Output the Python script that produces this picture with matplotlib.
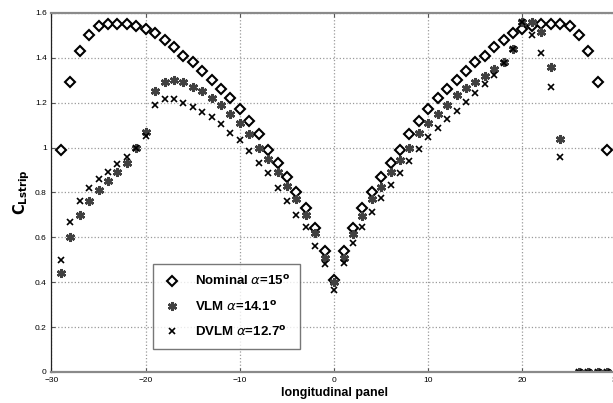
import numpy as np
import matplotlib
matplotlib.use("Agg")
import matplotlib.pyplot as plt

# Panel index along the span
panels = np.arange(-29, 30)

# Nominal alpha=15 deg (symmetric about the root panel)
nominal_half = [0.41, 0.54, 0.64, 0.73, 0.80, 0.87, 0.93, 0.99, 1.06, 1.12,
                1.17, 1.22, 1.26, 1.30, 1.34, 1.38, 1.41, 1.45, 1.48, 1.51,
                1.53, 1.54, 1.55, 1.55, 1.55, 1.54, 1.50, 1.43, 1.29, 0.99]
nominal = nominal_half[:0:-1] + nominal_half

# VLM alpha=14.1 deg, panels -29..29 (nan = not drawn)
vlm = [0.44, 0.60, 0.70, 0.76, 0.81, 0.85, 0.89, 0.93, 1.00, 1.07,
       1.25, 1.29, 1.30, 1.29, 1.27, 1.25, 1.22, 1.19, 1.15, 1.11,
       1.06, 1.00, 0.95, 0.89, 0.83, 0.77, 0.70, 0.62, 0.51, 0.40,
       0.51, 0.615, 0.695, 0.77, 0.825, 0.89, 0.945, 1.00, 1.065, 1.11,
       1.15, 1.19, 1.235, 1.265, 1.29, 1.32, 1.35, 1.38, 1.44, 1.56,
       1.56, 1.515, 1.36, 1.04, np.nan, 0.0, 0.0, 0.0, 0.0]

# DVLM alpha=12.7 deg, panels -29..29
dvlm = [0.50, 0.67, 0.76, 0.82, 0.86, 0.89, 0.925, 0.96, 1.00, 1.05,
        1.19, 1.215, 1.215, 1.20, 1.18, 1.16, 1.135, 1.105, 1.065, 1.035,
        0.985, 0.93, 0.885, 0.82, 0.76, 0.70, 0.645, 0.56, 0.48, 0.365,
        0.485, 0.575, 0.645, 0.715, 0.775, 0.835, 0.885, 0.94, 0.995, 1.045,
        1.085, 1.125, 1.165, 1.205, 1.245, 1.285, 1.325, 1.375, 1.44, 1.56,
        1.50, 1.42, 1.27, 0.96, np.nan, 0.0, 0.0, 0.0, 0.0]

xticks = [-30, -20, -10, 0, 10, 20, 30]
yticks = [0, 0.2, 0.4, 0.6, 0.8, 1.0, 1.2, 1.4, 1.6]
ytick_labels = ["0", "0.2", "0.4", "0.6", "0.8", "1", "1.2", "1.4", "1.6"]

plt.rcParams["font.family"] = ["Liberation Sans", "DejaVu Sans"]
plt.rcParams["mathtext.fontset"] = "dejavusans"

fig = plt.figure(figsize=(6.13, 4.03), dpi=100)
ax = fig.add_axes([0.084, 0.077, 0.922, 0.891])

ax.plot(panels, nominal, linestyle="none", marker="D", markersize=4.8,
        markerfacecolor="white", markeredgecolor="black", markeredgewidth=1.5,
        label=r"Nominal $\alpha$=15$^{\mathbf{o}}$")
ax.plot(panels, vlm, linestyle="none", marker=(6, 2, 0), markersize=6.5,
        markeredgecolor="#404040", markeredgewidth=1.8,
        label=r"VLM $\alpha$=14.1$^{\mathbf{o}}$")
ax.plot(panels, dvlm, linestyle="none", marker="x", markersize=5,
        markeredgecolor="black", markeredgewidth=1.2,
        label=r"DVLM $\alpha$=12.7$^{\mathbf{o}}$")

ax.set_xlim(-30, 30)
ax.set_ylim(0, 1.6)
ax.set_xticks(xticks)
ax.set_yticks(yticks)
ax.set_yticklabels(ytick_labels)
ax.tick_params(direction="in", labelsize=6, length=3, top=True, right=True,
               color="#555555")
ax.grid(True, linestyle=":", color="#9a9a9a", linewidth=0.9)

for side in ["top", "bottom"]:
    ax.spines[side].set_color("#8a8a8a")
    ax.spines[side].set_linewidth(1.6)
ax.spines["left"].set_color("#222222")
ax.spines["left"].set_linewidth(0.9)

ax.set_xlabel("longitudinal panel", fontsize=9, fontweight="bold", labelpad=2)
ax.set_ylabel(r"$\mathbf{C_{Lstrip}}$", fontsize=10.5, labelpad=2)

leg = ax.legend(loc="upper left", bbox_to_anchor=(0.168, 0.318),
                frameon=True, fancybox=False, edgecolor="#555555",
                prop={"weight": "bold", "size": 9.5}, handletextpad=1.0,
                borderpad=0.75, labelspacing=0.85, handlelength=1.4)
leg.get_frame().set_linewidth(1.0)

fig.savefig("out.png", dpi=100)
